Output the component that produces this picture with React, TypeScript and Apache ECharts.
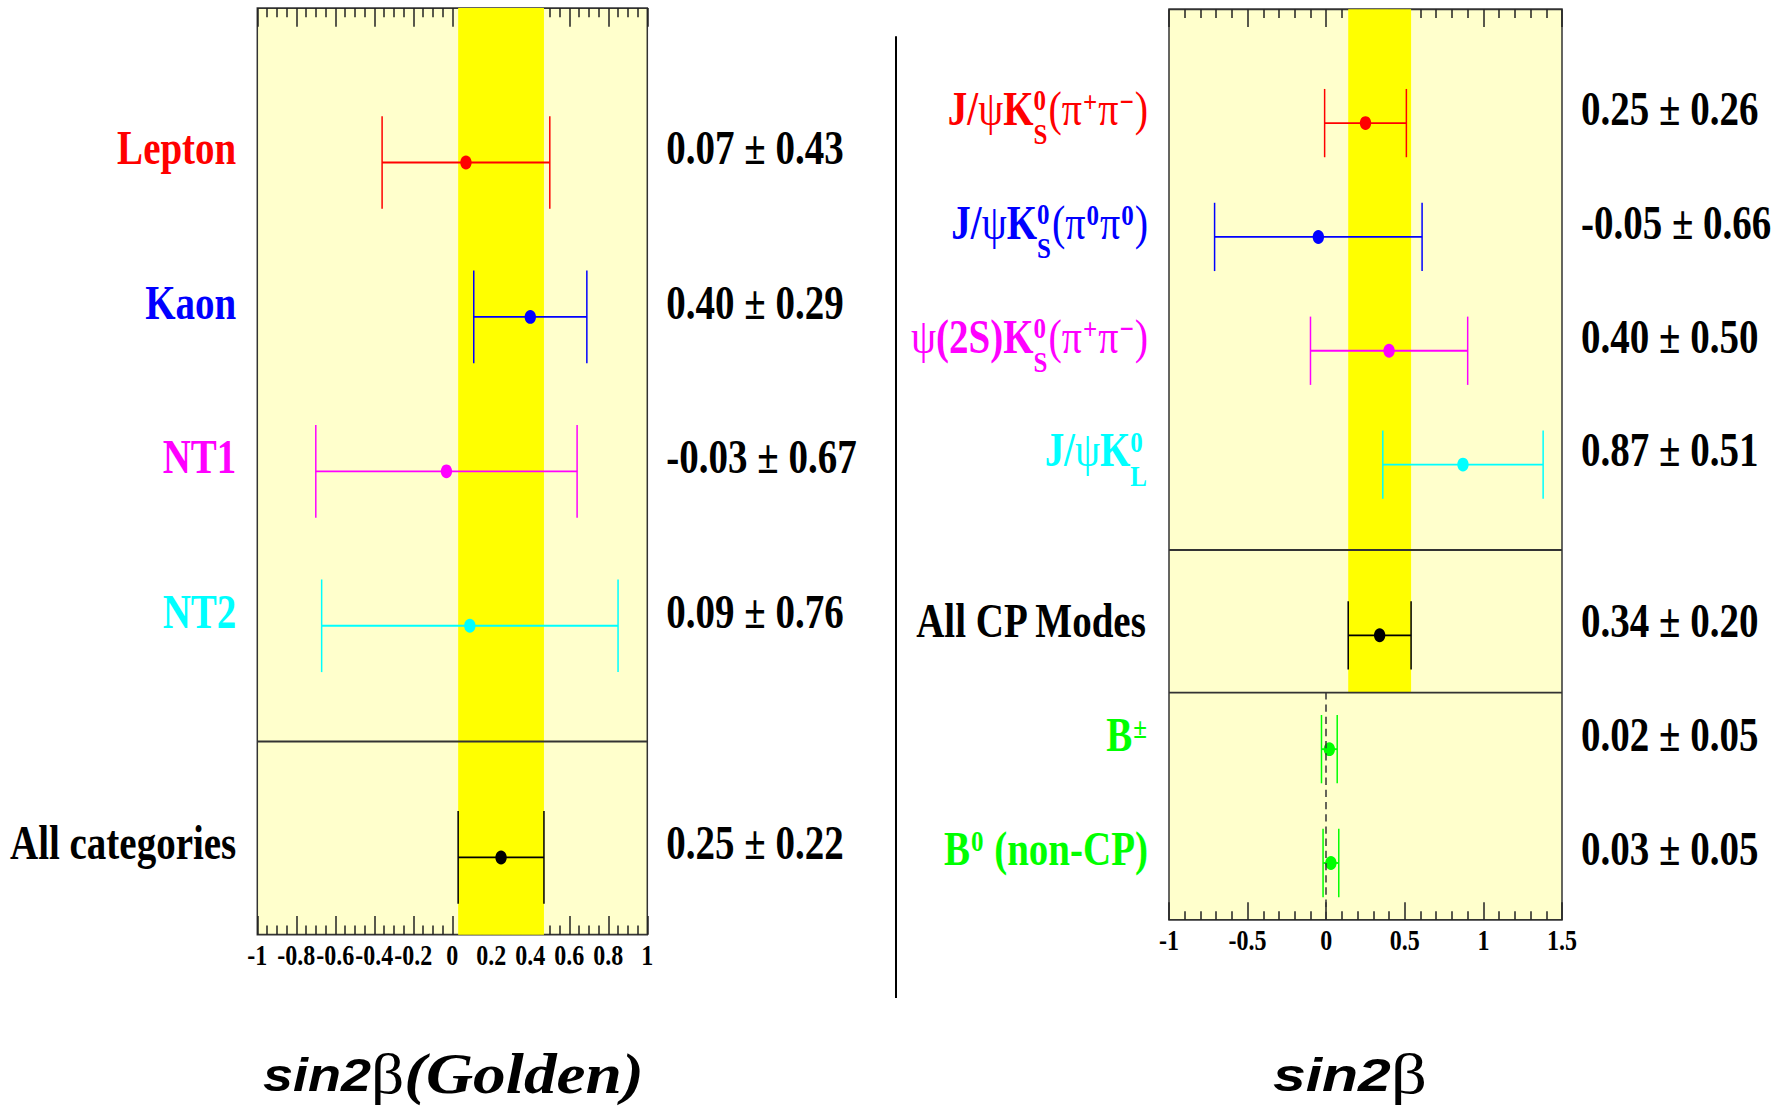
import React, { useEffect, useRef } from 'react';
import * as echarts from 'echarts';

// Page geometry: the chart is laid out on a shorter canvas and stretched vertically.
const PAGE_W = 1783;
const PAGE_H = 1111;
const DRAW_H = 911;
const STRETCH = PAGE_H / DRAW_H;

const SERIF = '"Liberation Serif", "Times New Roman", serif';
const SANS = '"Liberation Sans", Arial, Helvetica, sans-serif';

// ---- sin2beta (golden modes) by tagging category ----
const taggingCategories = ['{r|Lepton}', '{b|Kaon}', '{m|NT1}', '{c|NT2}', '{k|All categories}'];
const taggingValues = [0.07, 0.40, -0.03, 0.09, 0.25];
const taggingErrors = [0.43, 0.29, 0.67, 0.76, 0.22];
const taggingColors = ['#ff0000', '#0000ff', '#ff00ff', '#00ffff', '#000000'];

// ---- sin2beta by decay mode, plus the null-asymmetry control samples ----
const modeCategories = [
  '{r|J/}{rG|ψ}{r|K}{rZ|0}{rD|S}{rG|(π}{rU|+}{rG|π}{rU|−}{rG|)}',
  '{b|J/}{bG|ψ}{b|K}{bZ|0}{bD|S}{bG|(π}{bU|0}{bG|π}{bU|0}{bG|)}',
  '{mG|ψ}{m|(2S)K}{mZ|0}{mD|S}{mG|(π}{mU|+}{mG|π}{mU|−}{mG|)}',
  '{c|J/}{cG|ψ}{c|K}{cZ|0}{cD|L}',
  '{k|All CP Modes}',
  '{g|B}{gU|±}',
  '{g|B}{gU|0}{g| (non-CP)}',
];
const modeValues = [0.25, -0.05, 0.40, 0.87, 0.34, 0.02, 0.03];
const modeErrors = [0.26, 0.66, 0.50, 0.51, 0.20, 0.05, 0.05];
const modeColors = ['#ff0000', '#0000ff', '#ff00ff', '#00ffff', '#000000', '#00ff00', '#00ff00'];

// Axis ranges and tick spacing
const taggingAxis = { min: -1, max: 1, interval: 0.2, minorSplit: 4 };
const modeAxis = { min: -1, max: 1.5, interval: 0.5, minorSplit: 5 };

// Row layout (vertical slots inside each frame)
const TAGGING_ROWS = [1, 2, 3, 4, 5.5];
const TAGGING_SPAN = 6;
const TAGGING_DIVIDERS = [4.75];
const MODE_ROWS = [1, 2, 3, 4, 5.5, 6.5, 7.5];
const MODE_SPAN = 8;
const MODE_DIVIDERS = [4.75, 6];
const MODE_BAND_END = 6;
const CAP = 0.3;

const COLOR_KEYS: Record<string, string> = {
  r: '#ff0000',
  b: '#0000ff',
  m: '#ff00ff',
  c: '#00ffff',
  k: '#000000',
  g: '#00ff00',
};

function buildRich() {
  const rich: Record<string, any> = {};
  for (const [k, color] of Object.entries(COLOR_KEYS)) {
    const main = {
      color,
      align: 'left',
      fontFamily: SERIF,
      fontWeight: 'bold',
      fontSize: 39,
      lineHeight: 40,
      verticalAlign: 'middle',
    };
    const small = {
      color,
      align: 'left',
      fontFamily: SERIF,
      fontWeight: 'bold',
      fontSize: 25,
      lineHeight: 25,
      verticalAlign: 'middle',
    };
    rich[k] = main;
    rich[k + 'G'] = { ...main, fontWeight: 'normal', fontSize: 40 };
    rich[k + 'U'] = { ...small, padding: [0, 1, 12, 1] };
    // superscript stacked over the following subscript
    rich[k + 'Z'] = { ...small, padding: [0, 0, 14, 0], width: 0 };
    rich[k + 'D'] = { ...small, padding: [42, 1, 0, 0] };
  }
  return rich;
}
const RICH = buildRich();

function rowLookup(rows: number[], texts: string[]) {
  return (v: number) => {
    const i = rows.findIndex((r) => Math.abs(r - v) < 1e-6);
    return i < 0 ? '' : texts[i];
  };
}

function xAxesFor(gridIndex: number, ax: typeof taggingAxis, majorLen: number, minorLen: number) {
  const common = {
    type: 'value' as const,
    gridIndex,
    min: ax.min,
    max: ax.max,
    interval: ax.interval,
    axisLine: { show: false, onZero: false },
    splitLine: { show: false },
    axisTick: { show: true, inside: true, length: majorLen, lineStyle: { color: '#222', width: 1.5 } },
    minorTick: { show: true, splitNumber: ax.minorSplit, length: minorLen, lineStyle: { color: '#222', width: 1.5 } },
  };
  return [
    {
      ...common,
      position: 'bottom',
      axisLabel: {
        show: true,
        color: '#000',
        fontFamily: SERIF,
        fontWeight: 'bold',
        fontSize: 24,
        margin: 5,
        showMinLabel: true,
        showMaxLabel: true,
      },
    },
    { ...common, position: 'top', axisLabel: { show: false } },
  ];
}

function yAxesFor(gridIndex: number, span: number, rows: number[], names: string[], values: number[], errors: number[]) {
  const common = {
    type: 'value' as const,
    gridIndex,
    min: 0,
    max: span,
    interval: 0.5,
    inverse: true,
    axisLine: { show: false, onZero: false },
    axisTick: { show: false },
    splitLine: { show: false },
  };
  const valueTexts = values.map((v, i) => `{k|${v.toFixed(2)} ± ${errors[i].toFixed(2)}}`);
  return [
    {
      ...common,
      position: 'left',
      axisLabel: {
        formatter: rowLookup(rows, names),
        rich: RICH,
        margin: 21,
        padding: [0, 0, 24, 0],
        align: 'right',
      },
    },
    {
      ...common,
      position: 'right',
      axisLabel: {
        formatter: rowLookup(rows, valueTexts),
        rich: RICH,
        margin: 19,
        padding: [0, 0, 24, 0],
        align: 'left',
      },
    },
  ];
}

function errorBarSeries(
  xAxisIndex: number,
  yAxisIndex: number,
  rows: number[],
  values: number[],
  errors: number[],
  colors: string[],
  band: [number, number],
  bandEnd: number,
  dividers: number[],
  extraLines: any[]
) {
  const data = values.map((v, i) => [v, errors[i], rows[i]]);
  return {
    type: 'custom',
    xAxisIndex,
    yAxisIndex,
    data,
    encode: { x: 0, y: 2 },
    silent: true,
    renderItem: (params: any, api: any) => {
      const v = api.value(0);
      const e = api.value(1);
      const row = api.value(2);
      const color = colors[params.dataIndex];
      const c = api.coord([v, row]);
      const lo = api.coord([v - e, row]);
      const hi = api.coord([v + e, row]);
      const top = api.coord([v, row - CAP])[1];
      const bot = api.coord([v, row + CAP])[1];
      const stroke = { stroke: color, lineWidth: 1.5 };
      return {
        type: 'group',
        children: [
          { type: 'line', shape: { x1: lo[0], y1: c[1], x2: hi[0], y2: c[1] }, style: stroke },
          { type: 'line', shape: { x1: lo[0], y1: top, x2: lo[0], y2: bot }, style: stroke },
          { type: 'line', shape: { x1: hi[0], y1: top, x2: hi[0], y2: bot }, style: stroke },
          { type: 'circle', shape: { cx: c[0], cy: c[1], r: 5.7 }, style: { fill: color } },
        ],
      };
    },
    markArea: {
      silent: true,
      label: { show: false },
      itemStyle: { color: '#ffff00', opacity: 1, borderWidth: 0 },
      data: [[{ coord: [band[0], 0] }, { coord: [band[1], bandEnd] }]],
    },
    markLine: {
      silent: true,
      symbol: 'none',
      label: { show: false },
      lineStyle: { color: '#333', width: 1.5, type: 'solid' },
      data: [...dividers.map((d) => ({ yAxis: d })), ...extraLines],
    },
  };
}

const tCombined = taggingValues.length - 1;
const mCombined = 4;

function buildOption() {
  const tagBand: [number, number] = [
    taggingValues[tCombined] - taggingErrors[tCombined],
    taggingValues[tCombined] + taggingErrors[tCombined],
  ];
  const modeBand: [number, number] = [
    modeValues[mCombined] - modeErrors[mCombined],
    modeValues[mCombined] + modeErrors[mCombined],
  ];
  const gridStyle = { show: true, backgroundColor: '#ffffcc', borderColor: '#333', borderWidth: 1.5 };
  const titleRich = {
    a: { fontFamily: SANS, fontWeight: 'bold', fontStyle: 'italic', fontSize: 38, fill: '#000' },
    b: { fontFamily: SERIF, fontWeight: 'normal', fontSize: 46, fill: '#000' },
    c: { fontFamily: SERIF, fontWeight: 'bold', fontStyle: 'italic', fontSize: 46, fill: '#000' },
  };
  return {
    animation: false,
    grid: [
      { ...gridStyle, left: 257.3, top: 6.6, width: 390, height: 759.8 },
      { ...gridStyle, left: 1169, top: 7.6, width: 393, height: 746.7 },
    ],
    xAxis: [
      ...xAxesFor(0, taggingAxis, 15.3, 7.6),
      ...xAxesFor(1, modeAxis, 14.5, 7.1),
    ],
    yAxis: [
      ...yAxesFor(0, TAGGING_SPAN, TAGGING_ROWS, taggingCategories, taggingValues, taggingErrors),
      ...yAxesFor(1, MODE_SPAN, MODE_ROWS, modeCategories, modeValues, modeErrors),
    ],
    series: [
      errorBarSeries(0, 0, TAGGING_ROWS, taggingValues, taggingErrors, taggingColors, tagBand, TAGGING_SPAN, TAGGING_DIVIDERS, []),
      errorBarSeries(2, 2, MODE_ROWS, modeValues, modeErrors, modeColors, modeBand, MODE_BAND_END, MODE_DIVIDERS, [
        [
          { coord: [0, MODE_BAND_END], lineStyle: { type: [6, 4], color: '#333', width: 1.5 } },
          { coord: [0, MODE_SPAN] },
        ],
      ]),
    ],
    graphic: [
      { type: 'line', silent: true, shape: { x1: 896, y1: 29.8, x2: 896, y2: 818.4 }, style: { stroke: '#000', lineWidth: 2 } },
      {
        type: 'text',
        silent: true,
        x: 263,
        y: 881,
        scaleX: 1.42,
        style: { text: '{a|sin2}{b|β}{c|(Golden)}', rich: titleRich, align: 'left', verticalAlign: 'middle', fill: '#000' },
      },
      {
        type: 'text',
        silent: true,
        x: 1273,
        y: 881,
        scaleX: 1.55,
        style: { text: '{a|sin2}{b|β}', rich: titleRich, align: 'left', verticalAlign: 'middle', fill: '#000' },
      },
    ],
  };
}

export default function App() {
  const ref = useRef<HTMLDivElement>(null);
  useEffect(() => {
    if (!ref.current) return;
    const chart = echarts.init(ref.current, undefined, { renderer: 'svg', width: PAGE_W, height: DRAW_H });
    chart.setOption(buildOption() as any);
    return () => chart.dispose();
  }, []);
  return (
    <div
      style={{
        position: 'absolute',
        left: 0,
        top: 0,
        width: PAGE_W,
        height: PAGE_H,
        overflow: 'hidden',
        background: '#ffffff',
      }}
    >
      <div
        ref={ref}
        style={{
          width: PAGE_W,
          height: DRAW_H,
          transform: `scaleY(${STRETCH})`,
          transformOrigin: '0 0',
        }}
      />
    </div>
  );
}
